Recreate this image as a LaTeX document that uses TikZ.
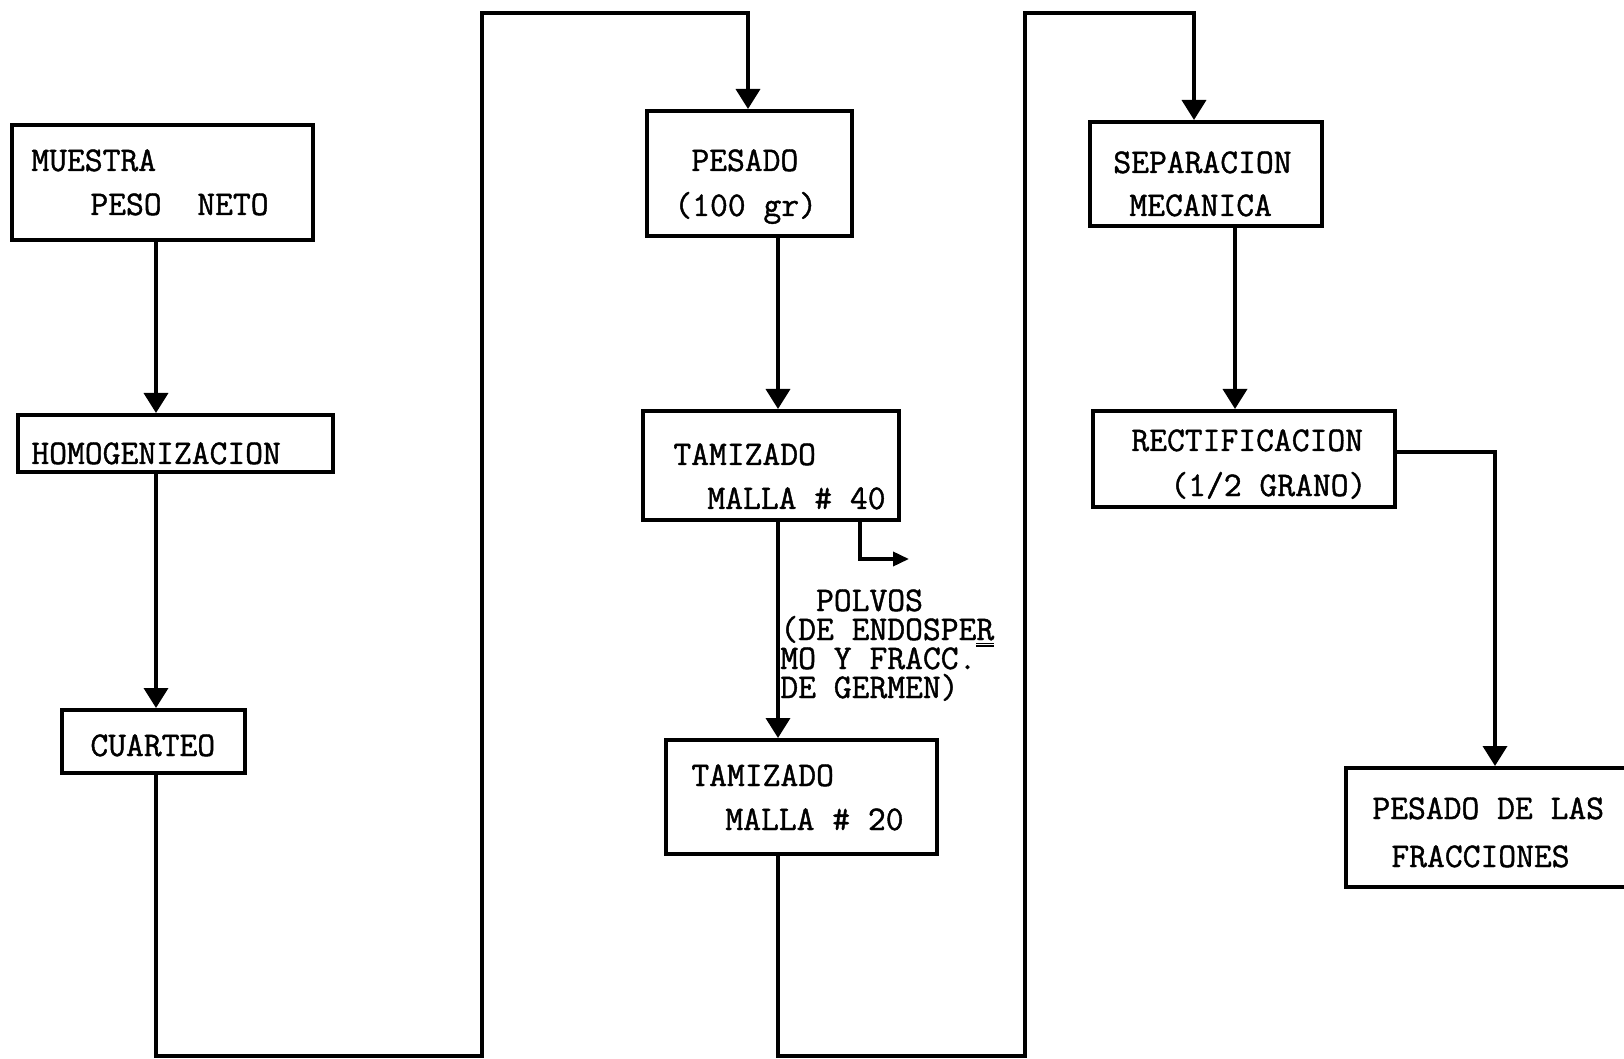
\documentclass[tikz,border=0pt]{standalone}
\usepackage{fontspec}
\setmonofont[FakeBold=1.2]{Latin Modern Mono}
\usetikzlibrary{arrows.meta,fit}
\tikzset{
  box/.style={draw, line width=2pt, inner sep=0pt},
  arr/.style={line width=1.8pt, -{Triangle[width=12pt,length=10pt]}},
  smallarr/.style={line width=1.8pt, -{Triangle[width=7pt,length=8pt]}},
  txt/.style={anchor=base west, inner sep=0pt,
    font=\ttfamily\fontsize{17.3}{14.5}\selectfont},
}
\begin{document}
\begin{tikzpicture}[x=0.5pt,y=-0.5pt]
\useasboundingbox (0,0) rectangle (1624,1059);
\fill[white] (0,0) rectangle (1624,1059);

% process boxes
\node[box, fit={(12,125) (313,240)}] (muestra) {};
\node[box, fit={(18,415) (333,472)}] (homog) {};
\node[box, fit={(62,710) (245,773)}] (cuarteo) {};
\node[box, fit={(647,111) (852,236)}] (pesado) {};
\node[box, fit={(643,411) (899,520)}] (tam40) {};
\node[box, fit={(666,740) (937,854)}] (tam20) {};
\node[box, fit={(1090,122) (1322,226)}] (sep) {};
\node[box, fit={(1093,411) (1395,507)}] (rect) {};
\node[box, fit={(1346,768) (1660,887)}] (peslas) {};

% box texts
\node[txt] (t-muestra) at (31,171) {MUESTRA};
\node[txt] (t-peso) at (90,215) {PESO~~NETO};
\node[txt] (t-homog) at (31,464) {HOMOGENIZACION};
\node[txt] (t-cuarteo) at (90,756) {CUARTEO};
\node[txt] (t-pesado) at (691,171) {PESADO};
\node[txt] (t-cien) at (674,216) {(100 gr)};
\node[txt] (t-tam40) at (673,465) {TAMIZADO};
\node[txt] (t-malla40) at (707,509) {MALLA \# 40};
\node[txt] (t-tam20) at (691,786) {TAMIZADO};
\node[txt] (t-malla20) at (725,830) {MALLA \# 20};
\node[txt] (t-sep) at (1113,173) {SEPARACION};
\node[txt] (t-mec) at (1129,216) {MECANICA};
\node[txt] (t-rect) at (1131,451) {RECTIFICACION};
\node[txt] (t-grano) at (1170,496) {(1/2 GRANO)};
\node[txt] (t-peslas) at (1372,819) {PESADO DE LAS};
\node[txt] (t-frac) at (1391,867) {FRACCIONES};

% by-product label, one block of typed lines (placed by its last baseline)
\node[txt, align=left] (t-polvos) at (780,698)
  {~~POLVOS\\(DE ENDOSPE\underline{R}\\MO Y FRACC.\rule[0.64em]{0.5em}{0.9pt}\\DE GERMEN)};

% connector guide coordinates
\coordinate (xa) at (156,0);
\coordinate (b1) at (482,1056);
\coordinate (t1) at (482,13);
\coordinate (xb) at (748,0);
\coordinate (xc) at (778,0);
\coordinate (xs) at (860,0);
\coordinate (polvo) at (909,559);
\coordinate (b2) at (1025,1056);
\coordinate (t2) at (1025,13);
\coordinate (xd) at (1194,0);
\coordinate (xe) at (1235,0);
\coordinate (ye) at (0,452);
\coordinate (xf) at (1495,0);

% connectors
\draw[arr] (muestra.south -| xa) -- (homog.north -| xa);
\draw[arr] (homog.south -| xa) -- (cuarteo.north -| xa);
\draw[arr] (cuarteo.south -| xa) |- (b1) -- (t1) -| (pesado.north -| xb);
\draw[arr] (pesado.south -| xc) -- (tam40.north -| xc);
\draw[arr] (tam40.south -| xc) -- (tam20.north -| xc);
\draw[smallarr] (tam40.south -| xs) |- (polvo);
\draw[arr] (tam20.south -| xc) |- (b2) -- (t2) -| (sep.north -| xd);
\draw[arr] (sep.south -| xe) -- (rect.north -| xe);
\draw[arr] (rect.east |- ye) -| (peslas.north -| xf);
\end{tikzpicture}
\end{document}
